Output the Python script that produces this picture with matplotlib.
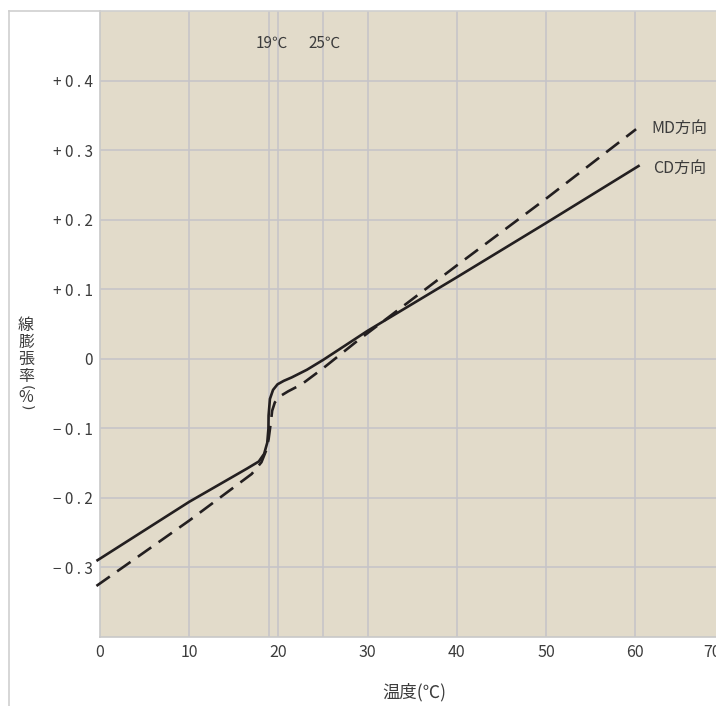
import matplotlib
matplotlib.use("Agg")
import matplotlib.pyplot as plt
from matplotlib.lines import Line2D

# linear expansion vs temperature
cd_temp = [-0.4, 10, 16.5, 17.8, 18.4, 18.75, 18.88, 18.9, 19.05, 19.4, 19.9, 20.6, 21.5, 23.2, 25.0, 30, 40, 50, 60.5]
cd_rate = [-0.291, -0.206, -0.158, -0.148, -0.137, -0.121, -0.101, -0.082, -0.058, -0.045, -0.037, -0.032, -0.027, -0.016, -0.002, 0.040, 0.117, 0.195, 0.278]

md_temp = [-0.4, 10, 17.0, 18.1, 18.6, 18.9, 19.15, 19.3, 19.6, 20.2, 21.1, 22.6, 25.0, 28.8, 40, 50, 60.1]
md_rate = [-0.327, -0.233, -0.166, -0.149, -0.133, -0.116, -0.092, -0.075, -0.063, -0.054, -0.047, -0.037, -0.014, 0.025, 0.134, 0.230, 0.330]

x_ticks = [0, 10, 20, 30, 40, 50, 60]
y_ticks = [-0.3, -0.2, -0.1, 0, 0.1, 0.2, 0.3, 0.4]
y_labels = ["−0.3", "−0.2", "−0.1", "0", "+0.1", "+0.2", "+0.3", "+0.4"]
mark_temps = [19, 25]
mark_labels = ["19℃", "25℃"]
# (char, rotation) for the stacked vertical y label
ylabel_chars = [("線", 0), ("膨", 0), ("張", 0), ("率", 0), ("(", -90), ("%", 0), (")", -90)]

plt.rcParams['font.family'] = ['Noto Sans CJK JP', 'DejaVu Sans']
txt = '#3c3c3c'
grid_c = '#c5c3c8'
ink = '#231f20'

fig = plt.figure(figsize=(7.16, 7.06), dpi=100)
ax = fig.add_axes([100/716, 1 - 636.7/706, 616/716, (636.7 - 11)/706])
ax.set_facecolor('#e2dbca')
ax.set_xlim(0, 616/8.92)
ax.set_ylim(-0.4, 0.5)

# grid
for v in x_ticks[1:] + mark_temps:
    ax.axvline(v, color=grid_c, lw=1.1, zorder=1)
for v in y_ticks:
    ax.axhline(v, color=grid_c, lw=1.1, zorder=1)

ax.plot(cd_temp, cd_rate, color=ink, lw=1.9, solid_capstyle='butt', zorder=3, clip_on=False)
ax.plot(md_temp, md_rate, color=ink, lw=1.9, dashes=(6.2, 3.4), zorder=3, clip_on=False)

for s in ['top', 'right']:
    ax.spines[s].set_visible(False)
for s in ['left', 'bottom']:
    ax.spines[s].set_color('#c8c8c8')
    ax.spines[s].set_linewidth(1.2)

ax.set_xticks(x_ticks)
ax.set_xticklabels([str(t) for t in x_ticks], fontsize=11.5)
ax.set_yticks(y_ticks)
ax.set_yticklabels([" ".join(l) if l != "0" else l for l in y_labels], fontsize=11)
ax.tick_params(length=0, colors=txt)
ax.tick_params(axis='x', pad=5)
ax.tick_params(axis='y', pad=5)
# last tick label sits at the cut-off right edge
ax.annotate("70", xy=(68.6, -0.4), xytext=(0, -5), textcoords='offset points',
            ha='center', va='top', fontsize=11.5, color=txt, annotation_clip=False)

for t, l in zip(mark_temps, mark_labels):
    ax.text(t + 0.2, 0.453, l, ha='center', va='center', fontsize=11, color=txt)

ax.text(61.8, 0.331, "MD方向", ha='left', va='center', fontsize=11.5, color=txt)
ax.text(62.0, 0.274, "CD方向", ha='left', va='center', fontsize=11.5, color=txt)

fig.text(414/716, 1 - 692/706, "温度(℃)", ha='center', va='center', fontsize=12.5, color=txt)

# vertical y label, one character per row
ylabel_rows = [325, 342.5, 359.5, 376, 387.5, 397, 407.5]
for (ch, rot), row in zip(ylabel_chars, ylabel_rows):
    if rot == 0:
        fig.text(26/716, 1 - row/706, ch, ha='center', va='center', fontsize=11.5, color=txt)
    else:
        fig.text(26/716, 1 - row/706, ch, ha='center', va='center', rotation=rot,
                 rotation_mode='anchor', fontsize=10, family='DejaVu Sans', color=txt)

# outer frame
fig.add_artist(Line2D([9/716, 1], [1 - 11/706] * 2, color='#cfcfcf', lw=1.2))
fig.add_artist(Line2D([9/716] * 2, [0, 1 - 11/706], color='#cfcfcf', lw=1.2))

fig.savefig("out.png", dpi=100)
